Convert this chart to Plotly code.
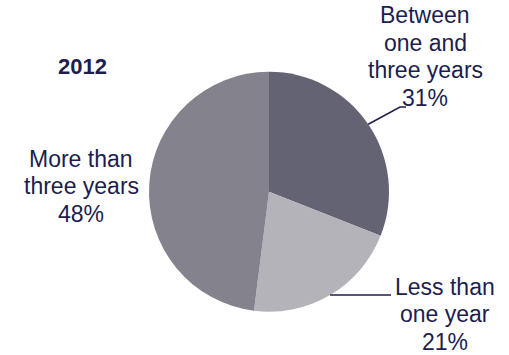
import math
import plotly.graph_objects as go

# Data
labels = ["Between one and three years", "Less than one year", "More than three years"]
label_lines = [["Between", "one and", "three years"], ["Less than", "one year"], ["More than", "three years"]]
values = [31, 21, 48]
colors = ["#646374", "#b4b3ba", "#83828d"]
title_text = "2012"

W, H = 509, 355
TEXT = "#201d4e"
FONT = "Liberation Sans, Arial, sans-serif"

# pie geometry in pixels
cx, cy, r = 269, 191.7, 120


def px(x):
    return x / W


def py(y):
    return 1 - y / H


fig = go.Figure(go.Pie(
    labels=labels, values=values, sort=False, direction="clockwise", rotation=0,
    marker=dict(colors=colors, line=dict(width=0)),
    textinfo="none", hoverinfo="label+percent", showlegend=False,
    domain=dict(x=[px(cx - r), px(cx + r)], y=[py(cy + r), py(cy - r)]),
))

annotations = []


def add_line(text, x, baseline, size=23, bold=False):
    t = f"<b>{text}</b>" if bold else text
    annotations.append(dict(
        text=t, x=px(x), y=py(baseline - 8.5), xref="paper", yref="paper",
        xanchor="center", yanchor="middle", showarrow=False,
        font=dict(family=FONT, size=size, color=TEXT),
    ))


# label blocks: (center x, first baseline)
blocks = [(425, 24), (445, 295), (81, 167)]
spacing = 27.5
for lines, val, (bx, by) in zip(label_lines, values, blocks):
    for i, ln in enumerate(lines + [f"{val}%"]):
        add_line(ln, bx, by + i * spacing)

add_line(title_text, 82, 75, size=22, bold=True)

# leader lines from slice mid-angles
total = sum(values)
cum = 0
mids = []
for v in values:
    mids.append((cum + v / 2) / total * 2 * math.pi)
    cum += v


def edge(theta):
    return cx + r * math.sin(theta), cy - r * math.cos(theta)


shapes = []
line_style = dict(color=TEXT, width=1.5)
x0, y0 = edge(mids[0])
shapes.append(dict(type="path", xref="paper", yref="paper",
                   path=f"M {px(x0)},{py(y0)} L {px(400)},{py(107)} L {px(406)},{py(107)}",
                   line=line_style))
x1, y1 = edge(mids[1])
shapes.append(dict(type="line", xref="paper", yref="paper",
                   x0=px(x1), y0=py(y1), x1=px(391), y1=py(y1), line=line_style))

fig.update_layout(
    width=W, height=H, margin=dict(l=0, r=0, t=0, b=0),
    paper_bgcolor="white", plot_bgcolor="white",
    annotations=annotations, shapes=shapes,
)

fig.write_html("out.html")
